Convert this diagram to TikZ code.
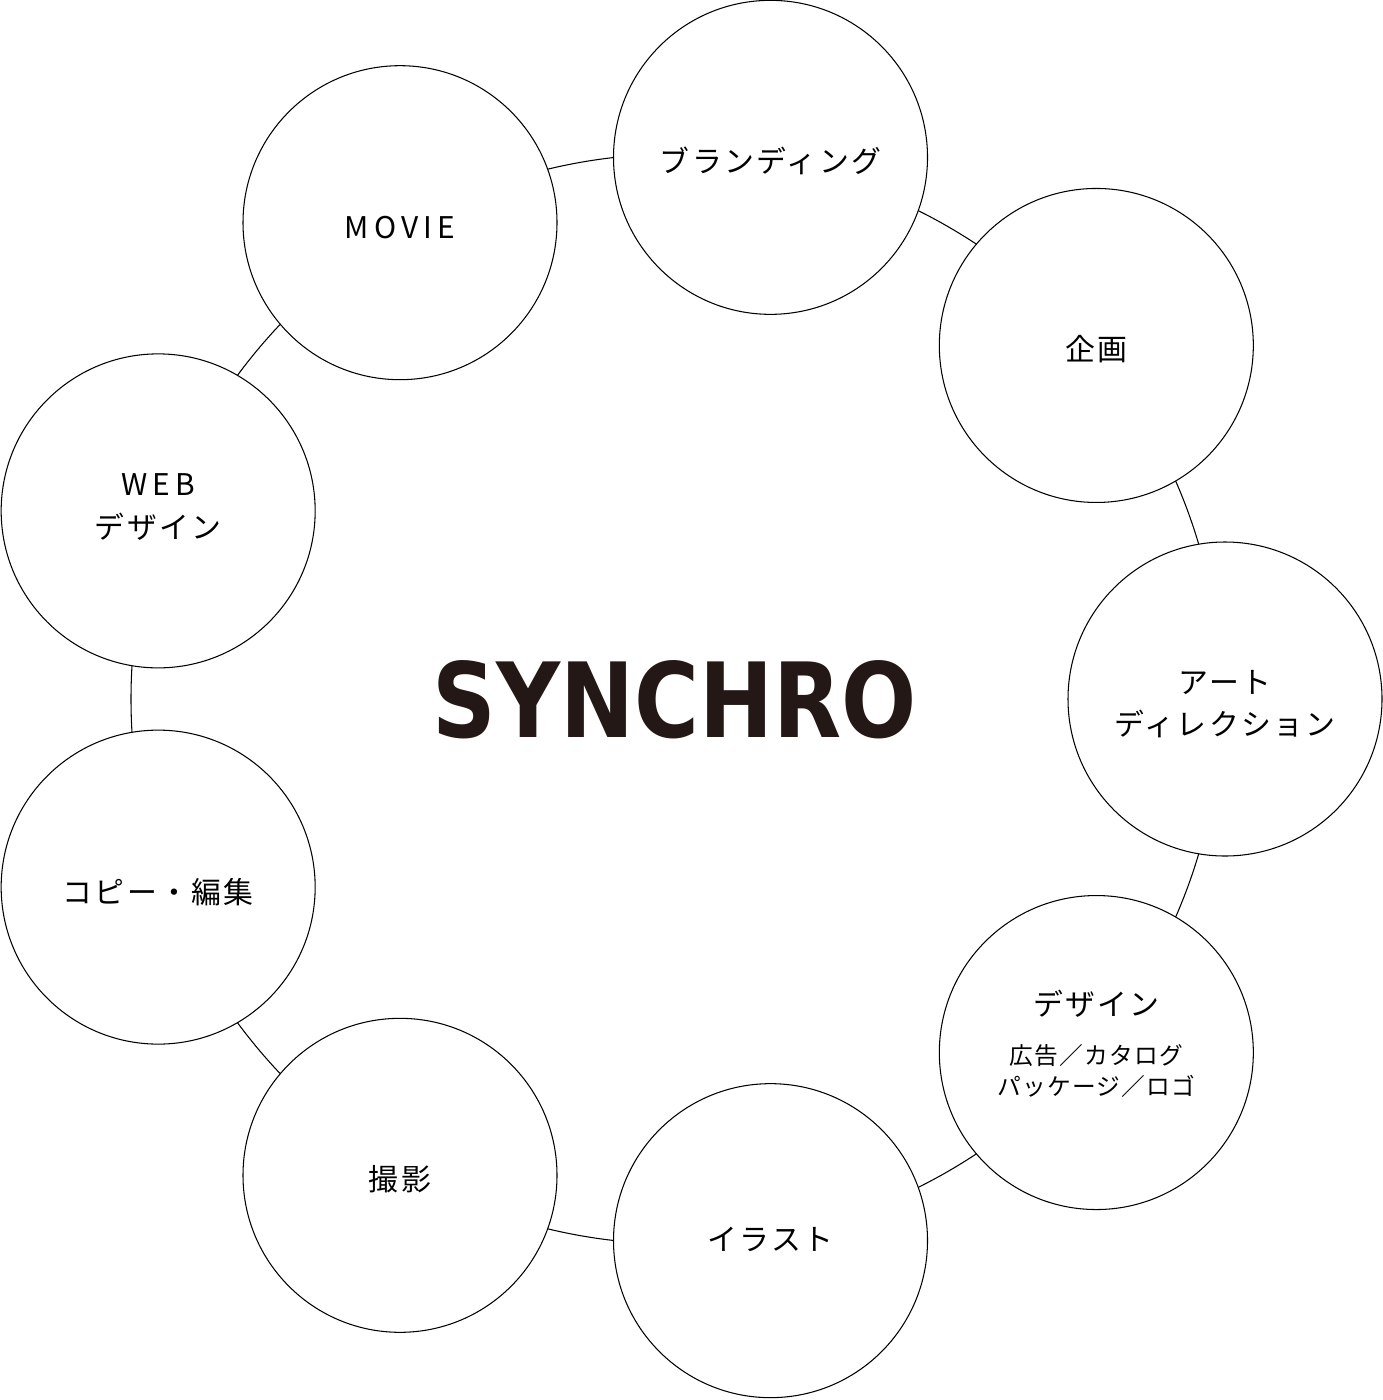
\documentclass[tikz,border=0pt]{standalone}
\usepackage{fontspec}
\usepackage{graphicx}
\setmainfont{Noto Sans CJK JP}
\newfontfamily\jpf[LetterSpace=8]{Noto Sans CJK JP}
\newfontfamily\latf[LetterSpace=18]{Noto Sans CJK JP}
\newfontfamily\subf[LetterSpace=5]{Noto Sans CJK JP}
\newfontfamily\logof{DejaVu Sans Bold}
\usetikzlibrary{calc}
\definecolor{logoc}{HTML}{231815}
\begin{document}
\begin{tikzpicture}[
  every node/.style={inner sep=0pt, outer sep=0pt},
  ringline/.style={draw=black, line width=0.6pt},
  bubble/.style={circle, draw=black, line width=0.6pt, fill=white, minimum size=6.28cm},
  mainlbl/.style={font=\jpf\fontsize{17}{24}\selectfont},
  latlbl/.style={font=\latf\fontsize{17}{24}\selectfont},
  sublbl/.style={font=\subf\fontsize{13.5}{18}\selectfont},
]
\useasboundingbox (0,0) rectangle (27.66,-28);
\coordinate (C) at (13.5,-13.98);
% ring connecting the bubbles
\node[circle, ringline, minimum size=21.8cm] (ring) at (13.52,-13.98) {};
% bubbles
\node[bubble] (brand) at ($(C)+(80:11cm)$) {};
\node[bubble] (plan)  at ($(C)+(40:11cm)$) {};
\node[bubble] (art)   at ($(C)+(0:11cm)$) {};
\node[bubble] (design) at ($(C)+(-40:11cm)$) {};
\node[bubble] (illust) at ($(C)+(-80:11cm)$) {};
\node[bubble] (photo) at ($(C)+(-120:11cm)$) {};
\node[bubble] (copy)  at ($(C)+(-160:11cm)$) {};
\node[bubble] (web)   at ($(C)+(160:11cm)$) {};
\node[bubble] (movie) at ($(C)+(120:11cm)$) {};
% labels
\node[mainlbl] (brandt) at ($(brand)+(0,-0.07)$) {ブランディング};
\node[mainlbl] (plant) at ($(plan)+(0,-0.08)$) {企画};
\node[mainlbl] (illustt) at ($(illust)+(0,0.02)$) {イラスト};
\node[mainlbl] (photot) at ($(photo)+(0,-0.08)$) {撮影};
\node[mainlbl] (copyt) at ($(copy)+(0,-0.09)$) {コピー・編集};
\node[latlbl] (moviet) at ($(movie)+(0,-0.1)$) {MOVIE};
\node[mainlbl] (art1) at ($(art)+(0,0.34)$) {アート};
\node[mainlbl] (art2) at ($(art)+(0,-0.50)$) {ディレクション};
\node[latlbl] (web1) at ($(web)+(0,0.52)$) {WEB};
\node[mainlbl] (web2) at ($(web)+(0,-0.32)$) {デザイン};
\node[mainlbl] (des1) at ($(design)+(0,0.98)$) {デザイン};
\node[sublbl] (des2) at ($(design)+(0,-0.06)$) {広告／カタログ};
\node[sublbl] (des3) at ($(design)+(0,-0.68)$) {パッケージ／ロゴ};
% logo
\node (logo) at (13.5,-13.99) {\color{logoc}\resizebox{9.68cm}{1.54cm}{\logof SYNCHRO}};
\end{tikzpicture}
\end{document}
